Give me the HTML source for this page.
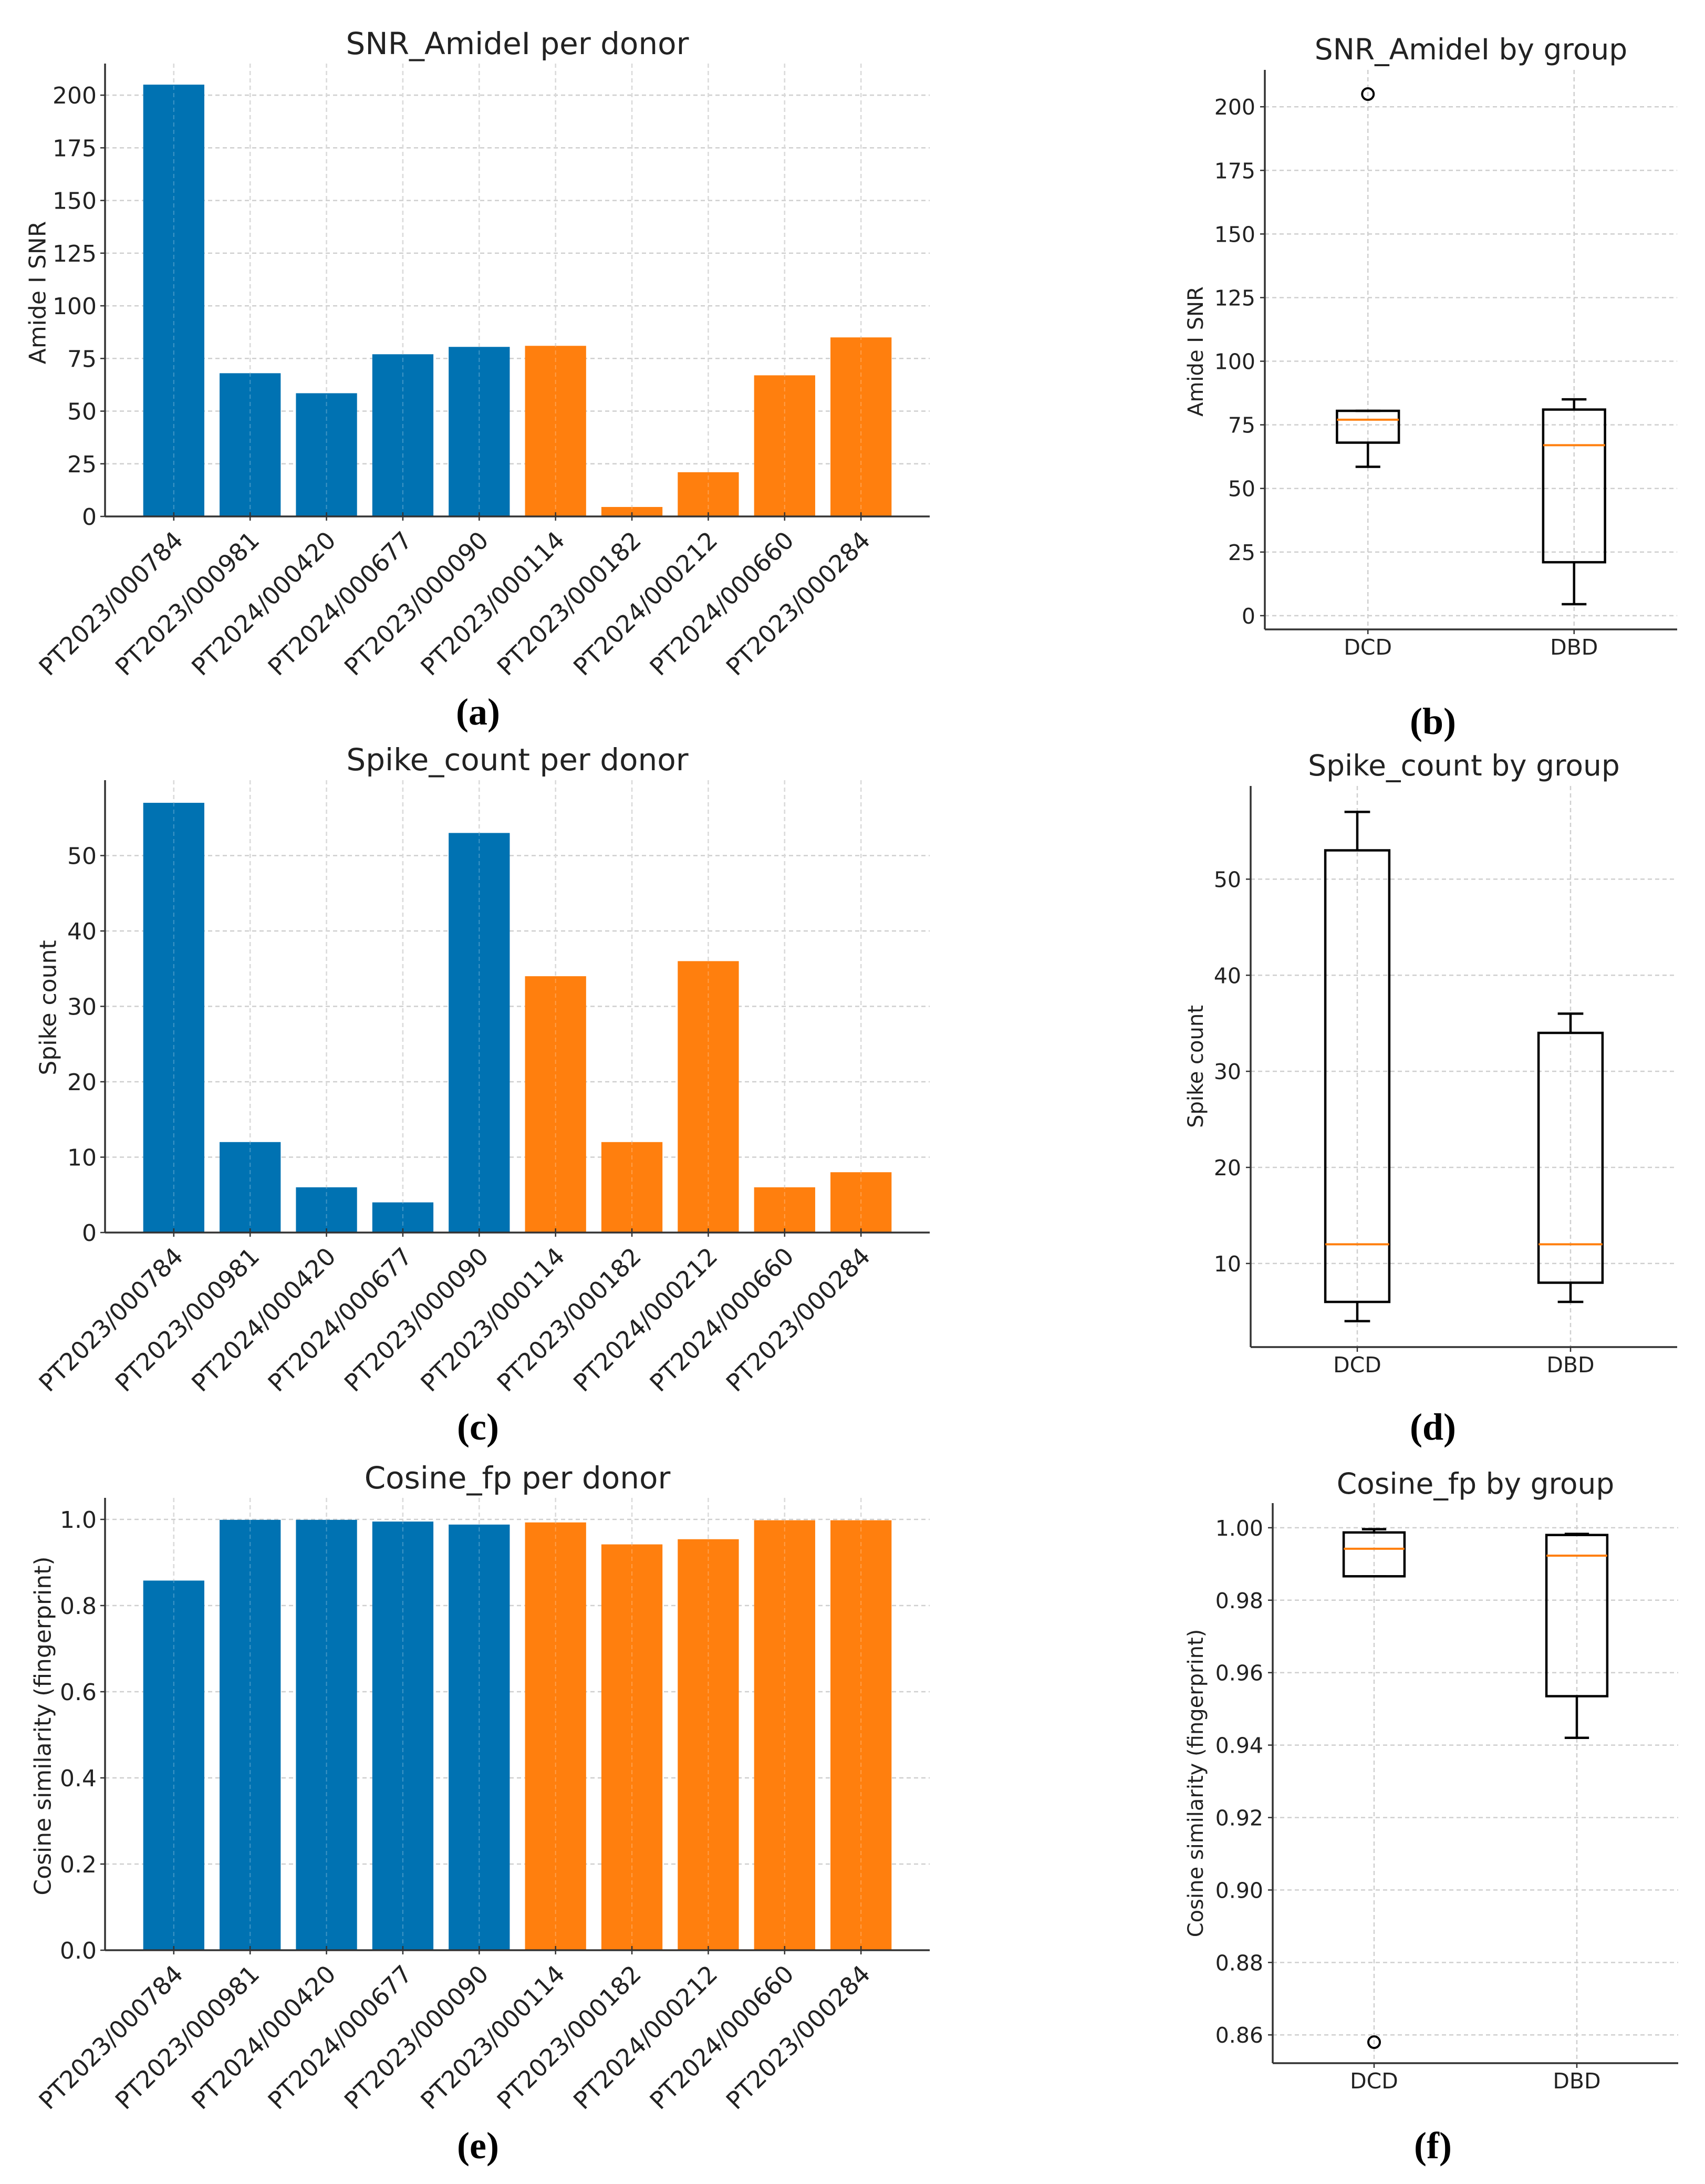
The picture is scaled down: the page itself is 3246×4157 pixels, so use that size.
<!DOCTYPE html>
<html><head><meta charset="utf-8"><style>
html,body{margin:0;padding:0;background:#fff;}
svg{display:block;}
text{font-family:"DejaVu Sans","Liberation Sans",sans-serif;fill:#222;}
.pl{font-family:"Liberation Serif",serif;font-weight:bold;fill:#000;}
</style></head><body>
<svg id="fig" width="3246" height="4157" viewBox="0 0 3246 4157" xmlns="http://www.w3.org/2000/svg"></svg>
<script>
// ---- data ----
const donors = ["PT2023/000784","PT2023/000981","PT2024/000420","PT2024/000677","PT2023/000090","PT2023/000114","PT2023/000182","PT2024/000212","PT2024/000660","PT2023/000284"];
const donorGroup = ["DCD","DCD","DCD","DCD","DCD","DBD","DBD","DBD","DBD","DBD"];
const snrValues = [205, 68, 58.5, 77, 80.5, 81, 4.5, 21, 67, 85];
const spikeValues = [57, 12, 6, 4, 53, 34, 12, 36, 6, 8];
const cosineValues = [0.858, 0.999, 0.999, 0.995, 0.988, 0.993, 0.942, 0.954, 0.998, 0.998];
const snrTicks = [0, 25, 50, 75, 100, 125, 150, 175, 200];
const spikeTicks = [0, 10, 20, 30, 40, 50];
const cosineTicks = [0.0, 0.2, 0.4, 0.6, 0.8, 1.0];
const groups = ["DCD", "DBD"];
// box stats: [whisker low, q1, median, q3, whisker high]
const snrBoxDCD = [58.5, 68, 77, 80.5, 80.5];
const snrBoxDBD = [4.5, 21, 67, 81, 85];
const snrOutliersDCD = [205];
const snrOutliersDBD = [];
const spikeBoxDCD = [4, 6, 12, 53, 57];
const spikeBoxDBD = [6, 8, 12, 34, 36];
const cosBoxDCD = [0.9866, 0.9866, 0.9942, 0.9987, 0.9996];
const cosBoxDBD = [0.942, 0.9535, 0.9923, 0.998, 0.9983];
const cosOutliersDCD = [0.858];
const cosOutliersDBD = [];
const snrBoxTicks = [0, 25, 50, 75, 100, 125, 150, 175, 200];
const spikeBoxTicks = [10, 20, 30, 40, 50];
const cosBoxTicks = [0.86, 0.88, 0.90, 0.92, 0.94, 0.96, 0.98, 1.00];

const NS = "http://www.w3.org/2000/svg";
const svg = document.getElementById("fig");
function mk(tag, attrs, parent, txt) {
  const e = document.createElementNS(NS, tag);
  for (const k in attrs) e.setAttribute(k, attrs[k]);
  if (txt !== undefined) e.textContent = txt;
  (parent || svg).appendChild(e);
  return e;
}
const BLUE = "#0072b2", ORANGE = "#ff7f0e", GRID = "#cfcfcf", AX = "#333";

function barChart(o) {
  const g = mk("g", {});
  
  
  const xs = v => o.left + (v - (-0.9)) / 10.8 * (o.right - o.left);
  const ys = v => o.bottom - (v - o.ymin) / (o.ymax - o.ymin) * (o.bottom - o.top);
  o.ticks.forEach(t => {
    const l = mk("line", {x1: o.left, x2: o.right, y1: ys(t), y2: ys(t), stroke: GRID, "stroke-width": 2.5, "stroke-dasharray": "8,6"}, g);
    
    
  });
  donors.forEach((d, i) => {
    const l = mk("line", {x1: xs(i), x2: xs(i), y1: o.top, y2: o.bottom, stroke: GRID, "stroke-width": 2.5, "stroke-dasharray": "8,6"}, g);
    
    
  });
  o.values.forEach((v, i) => {
    const w = 0.8 / 10.8 * (o.right - o.left);
    const r = mk("rect", {x: xs(i) - w / 2, y: ys(v), width: w, height: ys(0) - ys(v), fill: donorGroup[i] === "DCD" ? BLUE : ORANGE}, g);
    
    
  });
  donors.forEach((d, i) => {
    mk("line", {x1: xs(i), x2: xs(i), y1: o.top, y2: o.bottom, stroke: "rgba(255,255,255,0.25)", "stroke-width": 2, "stroke-dasharray": "8,6"}, g);
  });
  const ya = mk("line", {x1: o.left, x2: o.left, y1: o.top, y2: o.bottom, stroke: AX, "stroke-width": 3.5}, g);
  
  
  const xa = mk("line", {x1: o.left, x2: o.right, y1: o.bottom, y2: o.bottom, stroke: AX, "stroke-width": 3.5}, g);
  
  
  o.ticks.forEach((t, i) => {
    mk("line", {x1: o.left - 9, x2: o.left, y1: ys(t), y2: ys(t), stroke: AX, "stroke-width": 2.5}, g);
    const tx = mk("text", {x: o.left - 16, y: ys(t) + 16, "text-anchor": "end", "font-size": 44}, g, o.tickLabels[i]);
    
    
  });
  donors.forEach((d, i) => {
    mk("line", {x1: xs(i), x2: xs(i), y1: o.bottom - 8, y2: o.bottom + 8, stroke: AX, "stroke-width": 2.5}, g);
    const ax = xs(i) - 4, ay = o.bottom + 24;
    const tx = mk("text", {x: ax, y: ay, "text-anchor": "end", "dominant-baseline": "hanging", "font-size": 46, transform: `rotate(-45 ${ax} ${ay})`}, g, d);
    
    
  });
  const ttl = mk("text", {x: (o.left + o.right) / 2, y: o.titleY + 20, "text-anchor": "middle", "font-size": 58}, g, o.title);
  
  
  const yl = mk("text", {x: o.ylx, y: o.yly, "text-anchor": "middle", "dominant-baseline": "central", "font-size": 44, transform: `rotate(-90 ${o.ylx} ${o.yly})`}, g, o.ylabel);
  
  
  const pl = mk("text", {x: (o.left + o.right) / 2 - 75, y: o.plY + 24, "text-anchor": "middle", "font-size": 72, class: "pl"}, g, o.panel);
  
  
}

function boxChart(o) {
  const g = mk("g", {});
  
  
  const xs = v => o.left + (v - 0.5) / 2 * (o.right - o.left);
  const ys = v => o.bottom - (v - o.ymin) / (o.ymax - o.ymin) * (o.bottom - o.top);
  o.ticks.forEach(t => {
    const l = mk("line", {x1: o.left, x2: o.right, y1: ys(t), y2: ys(t), stroke: GRID, "stroke-width": 2.5, "stroke-dasharray": "8,6"}, g);
    
    
  });
  groups.forEach((gr, i) => {
    const l = mk("line", {x1: xs(i + 1), x2: xs(i + 1), y1: o.top, y2: o.bottom, stroke: GRID, "stroke-width": 2.5, "stroke-dasharray": "8,6"}, g);
    
    
  });
  const bw = 0.15 * (o.right - o.left) / 2, cw = 0.06 * (o.right - o.left) / 2;
  [o.boxDCD, o.boxDBD].forEach((b, i) => {
    const cx = xs(i + 1);
    const bg = mk("g", {}, g);
    
    
    mk("line", {x1: cx, x2: cx, y1: ys(b[0]), y2: ys(b[1]), stroke: "#000", "stroke-width": 4.5}, bg);
    mk("line", {x1: cx, x2: cx, y1: ys(b[3]), y2: ys(b[4]), stroke: "#000", "stroke-width": 4.5}, bg);
    mk("line", {x1: cx - cw, x2: cx + cw, y1: ys(b[0]), y2: ys(b[0]), stroke: "#000", "stroke-width": 4.5}, bg);
    mk("line", {x1: cx - cw, x2: cx + cw, y1: ys(b[4]), y2: ys(b[4]), stroke: "#000", "stroke-width": 4.5}, bg);
    mk("rect", {x: cx - bw, y: ys(b[3]), width: 2 * bw, height: ys(b[1]) - ys(b[3]), fill: "none", stroke: "#000", "stroke-width": 4.5}, bg);
    const md = mk("line", {x1: cx - bw, x2: cx + bw, y1: ys(b[2]), y2: ys(b[2]), stroke: ORANGE, "stroke-width": 4}, bg);
    
    
  });
  [o.outDCD, o.outDBD].forEach((arr, i) => {
    arr.forEach(v => {
      const c = mk("circle", {cx: xs(i + 1), cy: ys(v), r: 11, fill: "none", stroke: "#000", "stroke-width": 4}, g);
      
      
    });
  });
  const ya = mk("line", {x1: o.left, x2: o.left, y1: o.top, y2: o.bottom, stroke: AX, "stroke-width": 3.5}, g);
  
  
  const xa = mk("line", {x1: o.left, x2: o.right, y1: o.bottom, y2: o.bottom, stroke: AX, "stroke-width": 3.5}, g);
  
  
  o.ticks.forEach((t, i) => {
    mk("line", {x1: o.left - 9, x2: o.left, y1: ys(t), y2: ys(t), stroke: AX, "stroke-width": 2.5}, g);
    const tx = mk("text", {x: o.left - 18, y: ys(t) + 15, "text-anchor": "end", "font-size": 41}, g, o.tickLabels[i]);
    
    
  });
  groups.forEach((gr, i) => {
    mk("line", {x1: xs(i + 1), x2: xs(i + 1), y1: o.bottom, y2: o.bottom + 9, stroke: AX, "stroke-width": 2.5}, g);
    const tx = mk("text", {x: xs(i + 1), y: o.bottom + 48, "text-anchor": "middle", "font-size": 41}, g, gr);
    
    
  });
  const ttl = mk("text", {x: (o.left + o.right) / 2, y: o.titleY + 19, "text-anchor": "middle", "font-size": 55}, g, o.title);
  
  
  const yl = mk("text", {x: 2277, y: o.yly, "text-anchor": "middle", "dominant-baseline": "central", "font-size": 40, transform: `rotate(-90 2277 ${o.yly})`}, g, o.ylabel);
  
  
  const pl = mk("text", {x: 2728, y: o.plY + 24, "text-anchor": "middle", "font-size": 72, class: "pl"}, g, o.panel);
  
  
}

barChart({name: "snr-bar-chart", values: snrValues, ticks: snrTicks, tickLabels: snrTicks.map(String), ymin: 0, ymax: 215,
  left: 200, right: 1770, top: 121, bottom: 983, title: "SNR_AmideI per donor", titleY: 83, ylabel: "Amide I SNR", ylx: 72, yly: 557, panel: "(a)", plY: 1355});
barChart({name: "spike-bar-chart", values: spikeValues, ticks: spikeTicks, tickLabels: spikeTicks.map(String), ymin: 0, ymax: 60,
  left: 200, right: 1770, top: 1485, bottom: 2346, title: "Spike_count per donor", titleY: 1446, ylabel: "Spike count", ylx: 92, yly: 1918, panel: "(c)", plY: 2716});
barChart({name: "cosine-bar-chart", values: cosineValues, ticks: cosineTicks, tickLabels: cosineTicks.map(t => t.toFixed(1)), ymin: 0, ymax: 1.05,
  left: 200, right: 1770, top: 2851, bottom: 3712, title: "Cosine_fp per donor", titleY: 2813, ylabel: "Cosine similarity (fingerprint)", ylx: 82, yly: 3285, panel: "(e)", plY: 4084});

boxChart({name: "snr-box-chart", boxDCD: snrBoxDCD, boxDBD: snrBoxDBD, outDCD: snrOutliersDCD, outDBD: snrOutliersDBD,
  ticks: snrBoxTicks, tickLabels: snrBoxTicks.map(String), ymin: -5.4, ymax: 214.5, left: 2408, right: 3193, top: 133, bottom: 1198,
  title: "SNR_AmideI by group", titleY: 94, ylabel: "Amide I SNR", yly: 669, panel: "(b)", plY: 1373});
boxChart({name: "spike-box-chart", boxDCD: spikeBoxDCD, boxDBD: spikeBoxDBD, outDCD: [], outDBD: [],
  ticks: spikeBoxTicks, tickLabels: spikeBoxTicks.map(String), ymin: 1.3, ymax: 59.7, left: 2381, right: 3193, top: 1496, bottom: 2564,
  title: "Spike_count by group", titleY: 1457, ylabel: "Spike count", yly: 2030, panel: "(d)", plY: 2716});
boxChart({name: "cosine-box-chart", boxDCD: cosBoxDCD, boxDBD: cosBoxDBD, outDCD: cosOutliersDCD, outDBD: cosOutliersDBD,
  ticks: cosBoxTicks, tickLabels: cosBoxTicks.map(t => t.toFixed(2)), ymin: 0.8522, ymax: 1.0068, left: 2423, right: 3195, top: 2861, bottom: 3927,
  title: "Cosine_fp by group", titleY: 2824, ylabel: "Cosine similarity (fingerprint)", yly: 3394, panel: "(f)", plY: 4084});
</script>
</body></html>
